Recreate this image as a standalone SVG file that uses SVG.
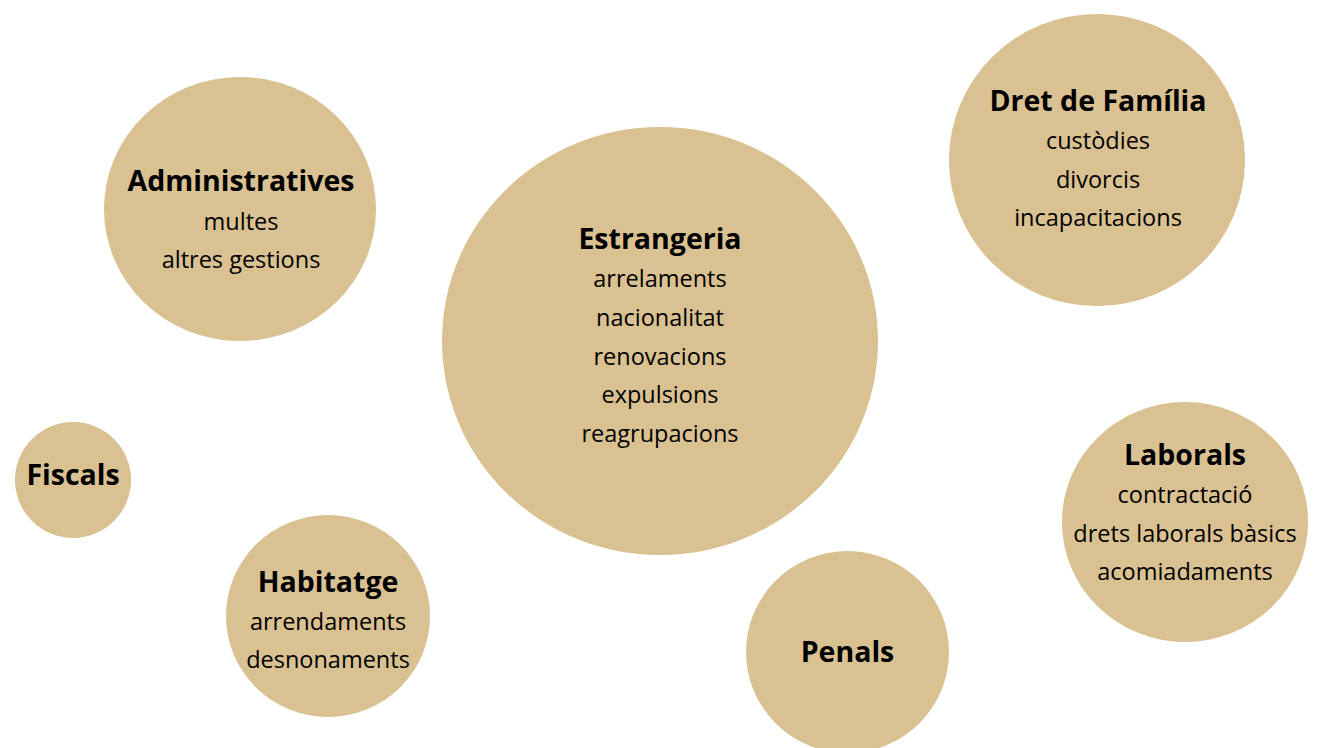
<svg xmlns="http://www.w3.org/2000/svg" width="1319" height="748" viewBox="0 0 1319 748">
<style>
.b{fill:#D9C192}
text{font-family:"Open Sans","Noto Sans",sans-serif;fill:#000;text-anchor:middle}
.t{font-weight:bold;font-size:28.5px}
.s{font-size:23.5px}
</style>
<rect width="1319" height="748" fill="#fff"/>
<g id="administratives">
<ellipse class="b" cx="240" cy="209" rx="136" ry="132"/>
<text class="t" x="241" y="191">Administratives</text>
<text class="s" x="241" y="230">multes</text>
<text class="s" x="241" y="268">altres gestions</text>
</g>
<g id="estrangeria">
<ellipse class="b" cx="660" cy="341" rx="218" ry="214"/>
<text class="t" x="660" y="249">Estrangeria</text>
<text class="s" x="660" y="287">arrelaments</text>
<text class="s" x="660" y="326">nacionalitat</text>
<text class="s" x="660" y="365">renovacions</text>
<text class="s" x="660" y="403">expulsions</text>
<text class="s" x="660" y="442">reagrupacions</text>
</g>
<g id="familia">
<ellipse class="b" cx="1097" cy="160" rx="148" ry="146"/>
<text class="t" x="1098" y="111">Dret de Família</text>
<text class="s" x="1098" y="149">custòdies</text>
<text class="s" x="1098" y="188">divorcis</text>
<text class="s" x="1098" y="226">incapacitacions</text>
</g>
<g id="fiscals">
<circle class="b" cx="73" cy="480" r="58"/>
<text class="t" x="73" y="485">Fiscals</text>
</g>
<g id="habitatge">
<ellipse class="b" cx="328" cy="616" rx="102" ry="101"/>
<text class="t" x="328" y="592">Habitatge</text>
<text class="s" x="328" y="630">arrendaments</text>
<text class="s" x="328" y="668">desnonaments</text>
</g>
<g id="laborals">
<ellipse class="b" cx="1185" cy="522" rx="123" ry="120"/>
<text class="t" x="1185" y="465">Laborals</text>
<text class="s" x="1185" y="503">contractació</text>
<text class="s" x="1185" y="542">drets laborals bàsics</text>
<text class="s" x="1185" y="580">acomiadaments</text>
</g>
<g id="penals">
<ellipse class="b" cx="847.5" cy="652" rx="101.5" ry="101"/>
<text class="t" x="847.5" y="662">Penals</text>
</g>
<g id="connectors"/>
</svg>
